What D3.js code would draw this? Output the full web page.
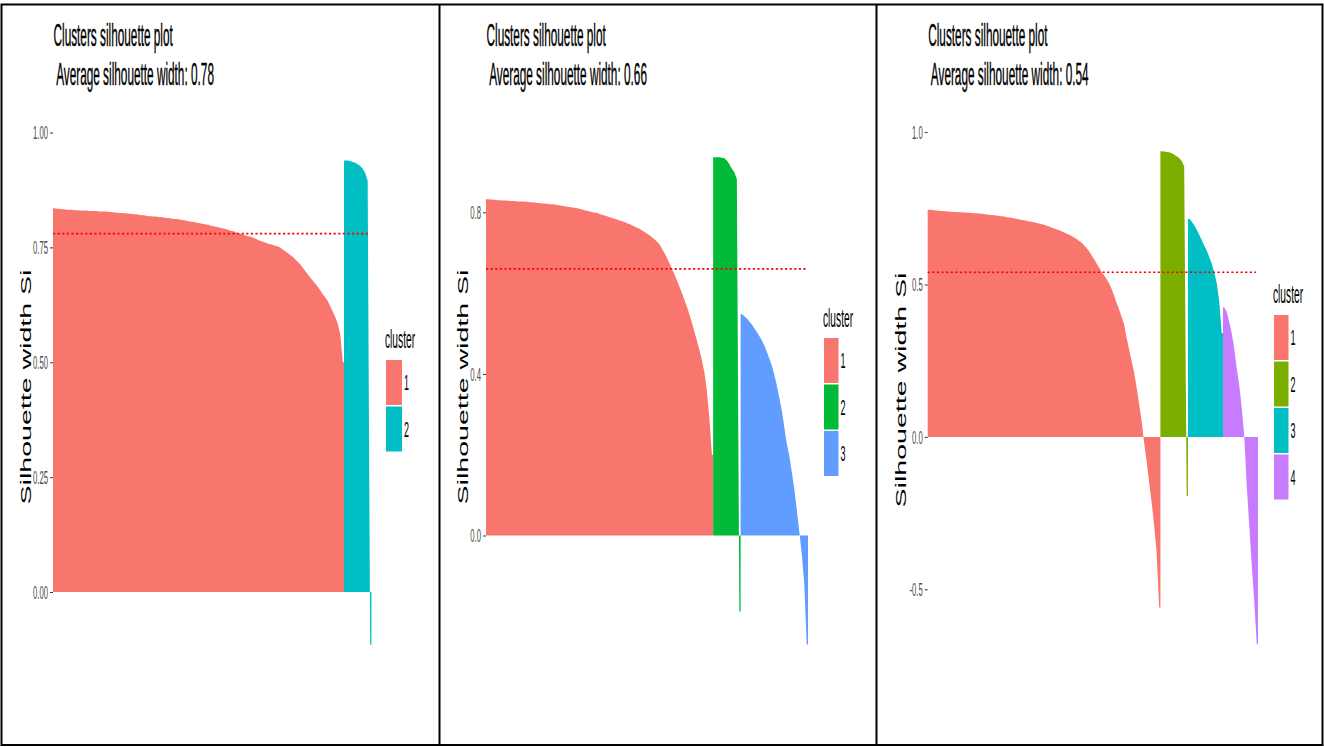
<!DOCTYPE html>
<html>
<head>
<meta charset="utf-8">
<script src="https://cdn.jsdelivr.net/npm/d3@7"></script>
<style>
body { margin: 0; background: #fff; }
text { font-family: "Liberation Sans", Arial, sans-serif; }
</style>
</head>
<body>
<svg id="drawing_region"></svg>
<script>
// silhouette widths, one value per observation, sorted inside each cluster
const panel1Cluster1 = [
    0.835, 0.834, 0.834, 0.833, 0.833, 0.832, 0.832, 0.832, 0.831, 0.831,
    0.830, 0.830, 0.830, 0.830, 0.829, 0.829, 0.829, 0.829, 0.828, 0.828,
    0.828, 0.828, 0.827, 0.827, 0.826, 0.826, 0.825, 0.825, 0.824, 0.824,
    0.823, 0.823, 0.822, 0.822, 0.821, 0.820, 0.820, 0.819, 0.818, 0.818,
    0.817, 0.817, 0.816, 0.816, 0.815, 0.814, 0.814, 0.813, 0.812, 0.812,
    0.811, 0.810, 0.809, 0.808, 0.807, 0.806, 0.805, 0.804, 0.803, 0.802,
    0.801, 0.800, 0.799, 0.797, 0.796, 0.795, 0.794, 0.792, 0.791, 0.790,
    0.788, 0.786, 0.785, 0.783, 0.781, 0.779, 0.778, 0.776, 0.774, 0.773,
    0.771, 0.769, 0.766, 0.764, 0.762, 0.760, 0.758, 0.757, 0.755, 0.753,
    0.752, 0.749, 0.745, 0.741, 0.737, 0.733, 0.729, 0.723, 0.718, 0.712,
    0.705, 0.698, 0.691, 0.684, 0.677, 0.671, 0.664, 0.656, 0.648, 0.641,
    0.633, 0.622, 0.610, 0.598, 0.584, 0.560, 0.500
];
const panel1Cluster2 = [0.939, 0.939, 0.938, 0.936, 0.934, 0.931, 0.927, 0.921, 0.912, 0.895, -0.115];

const panel2Cluster1 = [
    0.832, 0.832, 0.831, 0.831, 0.830, 0.830, 0.829, 0.829, 0.829, 0.828,
    0.828, 0.828, 0.827, 0.827, 0.827, 0.826, 0.826, 0.825, 0.825, 0.824,
    0.823, 0.823, 0.822, 0.822, 0.821, 0.820, 0.820, 0.819, 0.818, 0.817,
    0.816, 0.815, 0.814, 0.813, 0.812, 0.811, 0.810, 0.809, 0.807, 0.805,
    0.804, 0.802, 0.801, 0.799, 0.798, 0.796, 0.794, 0.792, 0.790, 0.788,
    0.786, 0.784, 0.782, 0.780, 0.778, 0.776, 0.773, 0.771, 0.768, 0.765,
    0.762, 0.759, 0.755, 0.751, 0.747, 0.743, 0.738, 0.733, 0.727, 0.721,
    0.710, 0.699, 0.687, 0.674, 0.660, 0.646, 0.632, 0.616, 0.600, 0.583,
    0.566, 0.547, 0.527, 0.504, 0.482, 0.460, 0.433, 0.404, 0.357, 0.290, 0.200
];
const panel2Cluster2 = [0.936, 0.936, 0.936, 0.935, 0.934, 0.928, 0.919, 0.908, 0.899, 0.882, -0.188];
const panel2Cluster3 = [
    0.548, 0.543, 0.537, 0.530, 0.522, 0.513, 0.504, 0.494, 0.483, 0.470,
    0.455, 0.438, 0.421, 0.398, 0.372, 0.341, 0.310, 0.268, 0.228, 0.198,
    0.157, 0.115, 0.065, 0.010, -0.045, -0.120, -0.270
];

const panel3Cluster1 = [
    0.745, 0.745, 0.744, 0.743, 0.742, 0.741, 0.740, 0.740, 0.739, 0.739,
    0.738, 0.738, 0.737, 0.737, 0.736, 0.736, 0.735, 0.735, 0.734, 0.734,
    0.733, 0.732, 0.731, 0.730, 0.729, 0.728, 0.727, 0.726, 0.725, 0.724,
    0.723, 0.721, 0.720, 0.718, 0.717, 0.715, 0.714, 0.712, 0.711, 0.709,
    0.707, 0.706, 0.704, 0.702, 0.700, 0.698, 0.696, 0.693, 0.690, 0.687,
    0.684, 0.681, 0.678, 0.675, 0.671, 0.667, 0.663, 0.659, 0.654, 0.649,
    0.643, 0.637, 0.629, 0.620, 0.609, 0.596, 0.583, 0.569, 0.556, 0.540,
    0.530, 0.518, 0.503, 0.485, 0.463, 0.440, 0.418, 0.393, 0.369, 0.325,
    0.286, 0.250, 0.210, 0.162, 0.108, 0.052, -0.020, -0.080, -0.150, -0.215,
    -0.290, -0.380, -0.560
];
const panel3Cluster2 = [0.937, 0.936, 0.935, 0.934, 0.931, 0.926, 0.921, 0.915, 0.905, 0.888, -0.195];
const panel3Cluster3 = [0.716, 0.707, 0.694, 0.680, 0.663, 0.646, 0.628, 0.612, 0.590, 0.568, 0.540, 0.505, 0.445, 0.340];
const panel3Cluster4 = [0.425, 0.410, 0.378, 0.340, 0.290, 0.225, 0.170, 0.095, 0.005, -0.160, -0.290, -0.420, -0.540, -0.680];

const averageWidths = [0.78, 0.66, 0.54];
const panel1Ticks = [0, 0.25, 0.5, 0.75, 1.0];
const panel2Ticks = [0, 0.4, 0.8];
const panel3Ticks = [-0.5, 0, 0.5, 1.0];
const clusterLabels = ['1', '2', '3', '4'];

// the picture is stretched vertically, text too
const SY = 2.5;

const svg = d3.select('#drawing_region')
    .attr('width', 1324)
    .attr('height', 747);

// table borders round the three plots
svg.append('rect')
    .attr('x', 1.5).attr('y', 4.5)
    .attr('width', 1321).attr('height', 740.5)
    .attr('fill', 'none').attr('stroke', '#000').attr('stroke-width', 2);
[439.5, 876.5].forEach(x => {
    svg.append('line')
        .attr('x1', x).attr('x2', x).attr('y1', 4.5).attr('y2', 745)
        .attr('stroke', '#000').attr('stroke-width', 2);
});

class SilhouettePlot {

    constructor(config, clusters, avg, ticks) {
        this.config = config;
        this.clusters = clusters;
        this.avg = avg;
        this.ticks = ticks;
        this.init();
    }

    init() {
        let self = this;
        const n = d3.sum(self.clusters, c => c.length);

        self.xscale = d3.scaleLinear()
            .domain([0, n])
            .range([self.config.left, self.config.right]);

        self.yscale = d3.scaleLinear()
            .domain(self.config.ydomain)
            .range(self.config.yrange);

        self.chart = svg.append('g');
    }

    text(x, y, str, size, sy) {
        return this.chart.append('text')
            .attr('transform', `translate(${x},${y}) scale(1,${sy || SY})`)
            .attr('font-size', size)
            .style('white-space', 'pre')
            .text(str);
    }

    render() {
        let self = this;
        const c = self.config;

        // title
        self.text(c.left + 0.5, 46, 'Clusters silhouette plot', 11.8, 2.6)
            .attr('stroke', '#000').attr('stroke-width', 0.15);
        self.text(c.left + 0.5, 85, ' Average silhouette width: ' + self.avg.toFixed(2), 11.8, 2.6)
            .attr('stroke', '#000').attr('stroke-width', 0.15);

        // one shape per cluster, a point for each observation
        const area = d3.area()
            .x(d => self.xscale(d.i))
            .y0(self.yscale(0))
            .y1(d => self.yscale(d.v));

        let start = 0;
        self.clusters.forEach((vals, k) => {
            const pts = vals.map((v, i) => ({ i: start + i + 0.5, v: v }));
            pts.unshift({ i: start, v: vals[0] });
            pts.push({ i: start + vals.length, v: vals[vals.length - 1] });
            self.chart.append('path')
                .datum(pts)
                .attr('fill', c.colors[k])
                .attr('d', area);
            start += vals.length;
        });

        // average line
        self.chart.append('line')
            .attr('x1', self.xscale(0))
            .attr('x2', self.xscale(start) - 2)
            .attr('y1', self.yscale(self.avg))
            .attr('y2', self.yscale(self.avg))
            .attr('stroke', '#FF0000')
            .attr('stroke-width', 1.6)
            .attr('stroke-dasharray', '2.2,2.4');

        // y axis, ticks only
        const yaxis = d3.axisLeft(self.yscale)
            .tickValues(self.ticks)
            .tickSize(3)
            .tickPadding(2)
            .tickFormat(d => d.toFixed(c.digits));

        const ag = self.chart.append('g')
            .attr('transform', `translate(${c.left}, 0)`)
            .call(yaxis)
            .attr('font-family', null)
            .attr('font-size', null);
        ag.select('.domain').remove();
        ag.selectAll('line').attr('stroke', '#333333');
        ag.selectAll('text')
            .attr('fill', '#4D4D4D')
            .attr('font-size', 7.7)
            .attr('transform', `scale(1,${SY})`);

        // y axis title
        self.chart.append('text')
            .attr('transform', `translate(${c.ylabel[0]},${c.ylabel[1]}) rotate(-90) scale(2.04,1)`)
            .attr('text-anchor', 'middle')
            .attr('dy', '0.35em')
            .attr('font-size', 14)
            .text('Silhouette width Si');

        // legend
        const lg = c.legend;
        self.text(lg.x - 1, lg.titleY, 'cluster', 10.2);
        self.clusters.forEach((vals, k) => {
            const top = lg.top + k * (lg.h + 1.5);
            self.chart.append('rect')
                .attr('x', lg.x)
                .attr('y', top)
                .attr('width', lg.w)
                .attr('height', lg.h)
                .attr('fill', c.colors[k]);
            self.text(lg.x + lg.w + 2, top + lg.h / 2 + 7.5, clusterLabels[k], 9);
        });
    }
}

const plot1 = new SilhouettePlot({
    left: 53, right: 371.4,
    ydomain: [0, 1], yrange: [592, 132.5],
    digits: 2,
    colors: ['#F8766D', '#00BFC4'],
    ylabel: [26, 387],
    legend: { x: 386, w: 16, h: 45, top: 360, titleY: 348 }
}, [panel1Cluster1, panel1Cluster2], averageWidths[0], panel1Ticks);
plot1.render();

const plot2 = new SilhouettePlot({
    left: 486, right: 808,
    ydomain: [0, 0.8], yrange: [535.5, 212.3],
    digits: 1,
    colors: ['#F8766D', '#00BA38', '#619CFF'],
    ylabel: [463, 387],
    legend: { x: 824, w: 14.5, h: 45, top: 338, titleY: 327 }
}, [panel2Cluster1, panel2Cluster2, panel2Cluster3], averageWidths[1], panel2Ticks);
plot2.render();

const plot3 = new SilhouettePlot({
    left: 927.7, right: 1258,
    ydomain: [-0.5, 1.0], yrange: [589.3, 132.1],
    digits: 1,
    colors: ['#F8766D', '#7CAE00', '#00BFC4', '#C77CFF'],
    ylabel: [901, 390],
    legend: { x: 1274, w: 14.5, h: 45, top: 315, titleY: 303 }
}, [panel3Cluster1, panel3Cluster2, panel3Cluster3, panel3Cluster4], averageWidths[2], panel3Ticks);
plot3.render();
</script>
</body>
</html>
